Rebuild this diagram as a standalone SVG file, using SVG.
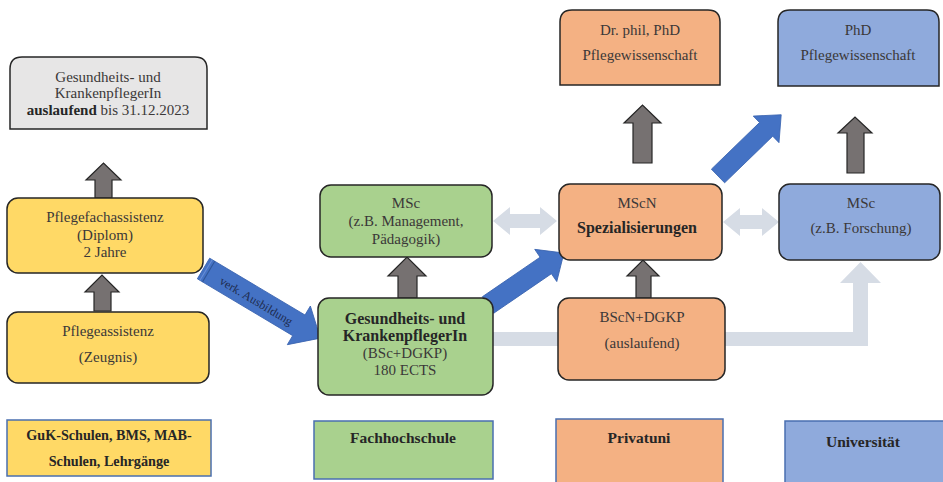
<svg xmlns="http://www.w3.org/2000/svg" width="943" height="482" viewBox="0 0 943 482">
<style>
.t{font-family:"Liberation Serif","Times New Roman",serif;font-size:15px;fill:#3b3838;text-anchor:middle}
.b{font-weight:bold;fill:#262626}
.bb{font-family:"Liberation Serif","Times New Roman",serif;font-size:16px;font-weight:bold;fill:#262626;text-anchor:middle}
.lg{font-family:"Liberation Serif","Times New Roman",serif;font-size:15.5px;font-weight:bold;fill:#262626;text-anchor:middle}
.lgs{font-size:14.2px}
.n{stroke:#262626;stroke-width:1.5}
.y{fill:#ffd966}.g{fill:#a9d18e}.o{fill:#f4b183}.bl{fill:#8faadc}.gr{fill:#e7e6e6}
.ga{fill:#767171;stroke:#262626;stroke-width:1.2}
.ba{fill:#4472c4;stroke:#3a64b0;stroke-width:0.8}
.la{fill:#d6dce5}
.leg{stroke:#4a6fb0;stroke-width:1.5}
</style>
<rect width="943" height="482" fill="#ffffff"/>
<g id="connectors">
  <polygon class="la" points="493,332 853,332 853,283 840,283 860.5,262 881,283 868,283 868,346 493,346"/>
  <polygon class="la" points="493,221 510,207 510,214 540,214 540,207 557,221 540,235 540,228 510,228 510,235"/>
  <polygon class="la" points="723,222 740,208 740,215 762,215 762,208 779,222 762,236 762,229 740,229 740,236"/>
  <polygon class="ga" points="95,198 95,180 86,180 103.5,163 121,180 112,180 112,198"/>
  <polygon class="ga" points="94,311 94,292 85,292 102,275 119,292 111,292 111,311"/>
  <polygon class="ga" points="398,298 398,276 388,276 407,257 426,276 417,276 417,298"/>
  <polygon class="ga" points="636,298 636,276 627,276 643,260 659,276 651,276 651,298"/>
  <polygon class="ga" points="633,163 633,123 624,123 642.5,105 661,123 652,123 652,163"/>
  <polygon class="ga" points="847,173 847,133 838,133 855,117 872,133 864,133 864,173"/>
  <g transform="translate(203.5,268.5) rotate(30.8)">
    <polygon class="ba" points="0,-12 111,-12 111,-22.5 136,0 111,22.5 111,12 0,12"/>
    <line x1="3" y1="-12" x2="3" y2="12" stroke="#6a8fd6" stroke-width="1"/>
    <line x1="6" y1="-12" x2="6" y2="12" stroke="#2f5597" stroke-width="1"/>
    <text x="62" y="5" font-family="'Liberation Serif','Times New Roman',serif" font-size="12" fill="#1f2d50" text-anchor="middle">verk. Ausbildung</text>
  </g>
  <g transform="translate(488,305) rotate(-34.4)">
    <polygon class="ba" points="0,-10 70,-10 70,-19.5 92,0 70,19.5 70,10 0,10"/>
  </g>
  <g transform="translate(718,176) rotate(-44.1)">
    <polygon class="ba" points="0,-9.5 67,-9.5 67,-18.5 88,0 67,18.5 67,9.5 0,9.5"/>
  </g>
</g>
<g id="n-gukpfleger">
  <path class="n gr" d="M10,129 V69 Q10,57 22,57 H195 Q207,57 207,69 V129 Z"/>
  <text class="t" x="108" y="82">Gesundheits- und</text>
  <text class="t" x="108" y="98">KrankenpflegerIn</text>
  <text class="t" x="108" y="115"><tspan class="b">auslaufend</tspan> bis 31.12.2023</text>
</g>
<g id="n-pflegefach">
  <rect class="n y" x="7" y="198" width="196" height="75" rx="11"/>
  <text class="t" x="105" y="222">Pflegefachassistenz</text>
  <text class="t" x="105" y="240">(Diplom)</text>
  <text class="t" x="105" y="257">2 Jahre</text>
</g>
<g id="n-pflegeassistenz">
  <rect class="n y" x="7" y="312" width="202" height="71" rx="11"/>
  <text class="t" x="108" y="336">Pflegeassistenz</text>
  <text class="t" x="108" y="362">(Zeugnis)</text>
</g>
<g id="n-msc-fh">
  <rect class="n g" x="320" y="185" width="172" height="72" rx="11"/>
  <text class="t" x="406" y="208">MSc</text>
  <text class="t" x="406" y="226">(z.B. Management,</text>
  <text class="t" x="406" y="244">Pädagogik)</text>
</g>
<g id="n-gukfh">
  <rect class="n g" x="318" y="298" width="175" height="97" rx="11"/>
  <text class="bb" x="405" y="324">Gesundheits- und</text>
  <text class="bb" x="405" y="341">KrankenpflegerIn</text>
  <text class="t" x="405" y="358">(BSc+DGKP)</text>
  <text class="t" x="405" y="375">180 ECTS</text>
</g>
<g id="n-mscn">
  <rect class="n o" x="559" y="184" width="163" height="76" rx="11"/>
  <text class="t" x="637" y="208">MScN</text>
  <text class="bb" x="637" y="233">Spezialisierungen</text>
</g>
<g id="n-bscn">
  <rect class="n o" x="558" y="298" width="167" height="82" rx="11"/>
  <text class="t" x="642" y="322">BScN+DGKP</text>
  <text class="t" x="642" y="348">(auslaufend)</text>
</g>
<g id="n-drphil">
  <path class="n o" d="M560,85 V22 Q560,10 572,10 H708 Q720,10 720,22 V85 Z"/>
  <text class="t" x="640" y="35">Dr. phil, PhD</text>
  <text class="t" x="640" y="60">Pflegewissenschaft</text>
</g>
<g id="n-msc-uni">
  <rect class="n bl" x="779" y="184" width="161" height="76" rx="11"/>
  <text class="t" x="861" y="208">MSc</text>
  <text class="t" x="861" y="233">(z.B. Forschung)</text>
</g>
<g id="n-phd">
  <path class="n bl" d="M778,86 V22 Q778,10 790,10 H927 Q939,10 939,22 V86 Z"/>
  <text class="t" x="858" y="35">PhD</text>
  <text class="t" x="858" y="60">Pflegewissenschaft</text>
</g>
<g id="legend-guk">
  <rect class="leg y" x="7" y="420" width="204" height="56"/>
  <text class="lg lgs" x="109" y="440">GuK-Schulen, BMS, MAB-</text>
  <text class="lg lgs" x="109" y="466">Schulen, Lehrgänge</text>
</g>
<g id="legend-fh">
  <rect class="leg g" x="314" y="421" width="179" height="58"/>
  <text class="lg" x="403" y="443">Fachhochschule</text>
</g>
<g id="legend-privat">
  <rect class="leg o" x="556" y="419" width="167" height="66"/>
  <text class="lg" x="639" y="443">Privatuni</text>
</g>
<g id="legend-uni">
  <rect class="leg bl" x="785" y="421" width="160" height="64"/>
  <text class="lg" x="863" y="447">Universität</text>
</g>
</svg>
